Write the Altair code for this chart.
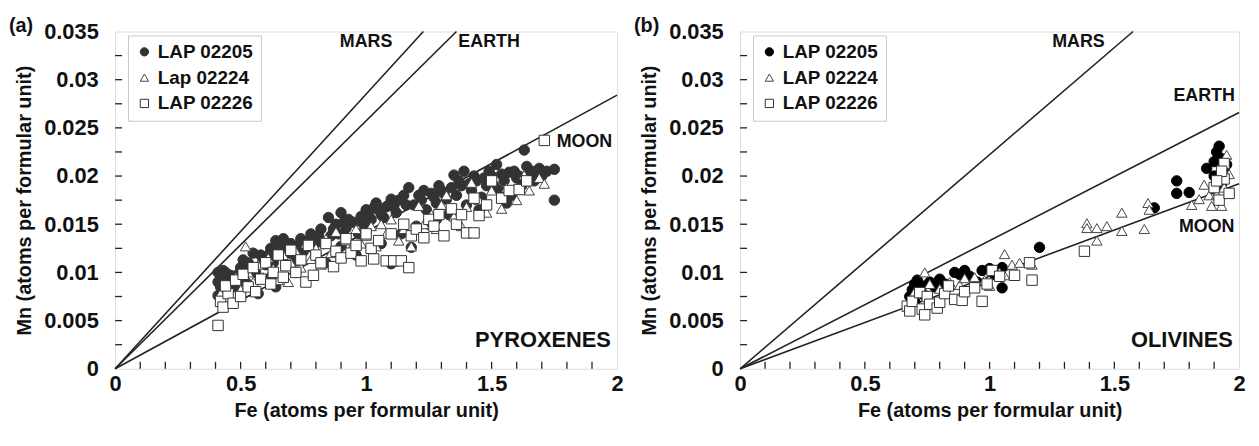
import altair as alt
import pandas as pd

FONT = "Liberation Sans"

# ---------------- (a) PYROXENES ----------------
pyx_names = ["LAP 02205", "Lap 02224", "LAP 02226"]

pyx_a_fe = [0.41, 0.42, 0.41, 0.42, 0.43, 0.41, 0.44, 0.45, 0.43, 0.46, 0.50, 0.53, 0.56, 0.57, 0.58,
            0.60, 0.62, 0.64, 0.66, 0.68, 0.70, 0.72, 0.74, 0.76, 0.78, 0.80, 0.82, 0.85, 0.86, 0.88,
            0.90, 0.92, 0.95, 0.97, 1.00, 1.02, 1.04, 1.06, 1.08, 1.10, 1.10, 1.12, 1.15, 1.17, 1.18,
            1.19, 1.22, 1.24, 1.26, 1.28, 1.30, 1.32, 1.35, 1.36, 1.38, 1.39, 1.40, 1.42, 1.44, 1.46,
            1.48, 1.50, 1.52, 1.53, 1.55, 1.57, 1.58, 1.60, 1.62, 1.63, 1.65, 1.67, 1.69, 1.70, 1.75,
            1.75, 0.48, 0.52, 0.62, 0.72, 0.84, 0.96, 1.06, 1.14, 1.25, 0.64, 0.80, 0.90, 1.20, 1.33,
            1.45, 1.56, 1.28,
            0.44, 0.47, 0.49, 0.51, 0.54, 0.55, 0.59, 0.61, 0.63, 0.67, 0.69, 0.71, 0.73, 0.75, 0.77,
            0.79, 0.81, 0.83, 0.87, 0.89, 0.91, 0.93, 0.98, 0.99, 1.01, 1.03, 1.05, 1.07, 1.09, 1.11,
            1.13, 1.16, 1.21, 1.23, 1.27, 1.29, 1.31, 1.34, 1.37, 1.41, 1.43, 1.47, 1.49, 1.51, 1.54,
            1.59, 1.61, 1.64, 1.66, 1.68, 1.72]
pyx_a_mn = [0.0100, 0.0095, 0.0090, 0.0085, 0.0080, 0.0076, 0.0092, 0.0087, 0.0102, 0.0097, 0.0105, 0.0110, 0.0100, 0.0078, 0.0118,
            0.0108, 0.0125, 0.0133, 0.0127, 0.0120, 0.0130, 0.0112, 0.0135, 0.0127, 0.0140, 0.0132, 0.0145, 0.0157, 0.0138, 0.0150,
            0.0162, 0.0146, 0.0152, 0.0140, 0.0165, 0.0155, 0.0172, 0.0160, 0.0168, 0.0176, 0.0109, 0.0162, 0.0180, 0.0188, 0.0126,
            0.0170, 0.0175, 0.0165, 0.0182, 0.0172, 0.0185, 0.0176, 0.0201, 0.0180, 0.0190, 0.0205, 0.0170, 0.0185, 0.0195, 0.0178,
            0.0190, 0.0200, 0.0212, 0.0185, 0.0195, 0.0204, 0.0180, 0.0198, 0.0190, 0.0227, 0.0203, 0.0195, 0.0208, 0.0200, 0.0207,
            0.0175, 0.0085, 0.0090, 0.0095, 0.0100, 0.0110, 0.0118, 0.0130, 0.0140, 0.0150, 0.0085, 0.0118, 0.0127, 0.0148, 0.0160,
            0.0165, 0.0172, 0.0155,
            0.0100, 0.0093, 0.0098, 0.0113, 0.0105, 0.0120, 0.0112, 0.0118, 0.0110, 0.0135, 0.0125, 0.0118, 0.0128, 0.0122, 0.0133,
            0.0125, 0.0138, 0.0130, 0.0145, 0.0140, 0.0152, 0.0155, 0.0158, 0.0150, 0.0160, 0.0167, 0.0165, 0.0157, 0.0170, 0.0168,
            0.0175, 0.0170, 0.0180, 0.0185, 0.0178, 0.0190, 0.0182, 0.0188, 0.0195, 0.0192, 0.0200, 0.0198, 0.0205, 0.0190, 0.0202,
            0.0205, 0.0200, 0.0210, 0.0205, 0.0198, 0.0205]

pyx_b_fe = [0.42, 0.44, 0.46, 0.48, 0.50, 0.52, 0.53, 0.55, 0.57, 0.59, 0.61, 0.63, 0.65, 0.67, 0.69,
            0.70, 0.72, 0.74, 0.76, 0.78, 0.80, 0.82, 0.84, 0.86, 0.88, 0.90, 0.92, 0.94, 0.96, 0.98,
            1.00, 1.02, 1.04, 1.06, 1.08, 1.10, 1.13, 1.15, 1.18, 1.21, 1.23, 1.26, 1.28, 1.30, 1.32,
            1.35, 1.38, 1.40, 1.42, 1.45, 1.48, 1.50, 1.54, 1.56, 1.60, 1.63, 1.65, 1.69, 1.71]
pyx_b_mn = [0.0078, 0.0088, 0.0070, 0.0095, 0.0082, 0.0127, 0.0100, 0.0090, 0.0108, 0.0095, 0.0115, 0.0104, 0.0092, 0.0118, 0.0090,
            0.0110, 0.0122, 0.0105, 0.0130, 0.0114, 0.0125, 0.0108, 0.0135, 0.0120, 0.0142, 0.0118, 0.0133, 0.0125, 0.0145, 0.0130,
            0.0138, 0.0148, 0.0127, 0.0150, 0.0140, 0.0155, 0.0133, 0.0145, 0.0127, 0.0169, 0.0150, 0.0160, 0.0145, 0.0170, 0.0180,
            0.0158, 0.0148, 0.0168, 0.0193, 0.0175, 0.0162, 0.0185, 0.0166, 0.0188, 0.0175, 0.0201, 0.0185, 0.0198, 0.0192]

pyx_c_fe = [0.41, 0.42, 0.43, 0.45, 0.47, 0.44, 0.48, 0.50, 0.51, 0.53, 0.55, 0.56, 0.58, 0.60, 0.62,
            0.63, 0.65, 0.67, 0.68, 0.70, 0.72, 0.74, 0.76, 0.77, 0.79, 0.80, 0.82, 0.84, 0.87, 0.88,
            0.90, 0.92, 0.94, 0.96, 0.98, 1.00, 1.02, 1.03, 1.05, 1.08, 1.10, 1.11, 1.14, 1.17, 1.15,
            1.18, 1.20, 1.23, 1.25, 1.27, 1.29, 1.31, 1.34, 1.36, 1.38, 1.40, 1.43, 1.43, 1.45, 1.48,
            1.50, 1.54, 1.57, 1.61, 1.64, 1.71]
pyx_c_mn = [0.0045, 0.0070, 0.0064, 0.0078, 0.0068, 0.0086, 0.0092, 0.0075, 0.0098, 0.0085, 0.0105, 0.0080, 0.0093, 0.0110, 0.0088,
            0.0100, 0.0118, 0.0095, 0.0107, 0.0123, 0.0100, 0.0113, 0.0090, 0.0128, 0.0097, 0.0118, 0.0110, 0.0130, 0.0106, 0.0122,
            0.0115, 0.0135, 0.0120, 0.0128, 0.0112, 0.0140, 0.0125, 0.0114, 0.0133, 0.0112, 0.0140, 0.0112, 0.0112, 0.0105, 0.0150,
            0.0138, 0.0145, 0.0136, 0.0155, 0.0148, 0.0160, 0.0138, 0.0166, 0.0150, 0.0160, 0.0141, 0.0141, 0.0177, 0.0159, 0.0170,
            0.0195, 0.0177, 0.0185, 0.0186, 0.0195, 0.0237]

pyx_line_names = ["MARS", "EARTH", "MOON"]
pyx_line_end_fe = [1.228, 1.36, 2.0]
pyx_line_end_mn = [0.035, 0.035, 0.0284]

pyx_label_text = ["MARS", "EARTH", "MOON"]
pyx_label_fe = [1.0, 1.49, 1.87]
pyx_label_mn = [0.0339, 0.0339, 0.0235]

# ---------------- (b) OLIVINES ----------------
oli_names = ["LAP 02205", "LAP 02224", "LAP 02226"]

oli_a_fe = [0.68, 0.69, 0.70, 0.71, 0.70, 0.72, 0.73, 0.74, 0.76, 0.78, 0.80, 0.82, 0.86, 0.88, 0.90,
            0.92, 0.95, 0.97, 1.00, 1.02, 1.05, 1.05, 1.20, 1.66, 1.75, 1.75, 1.80, 1.87, 1.90, 1.91,
            1.92, 1.93, 1.94, 1.92, 1.95, 1.93, 1.90]
oli_a_mn = [0.0075, 0.0082, 0.0088, 0.0092, 0.0070, 0.0080, 0.0086, 0.0076, 0.0090, 0.0085, 0.0093, 0.0088, 0.0100, 0.0098, 0.0102,
            0.0096, 0.0090, 0.0102, 0.0104, 0.0098, 0.0105, 0.0084, 0.0126, 0.0167, 0.0195, 0.0182, 0.0183, 0.0208, 0.0215, 0.0225,
            0.0231, 0.0218, 0.0205, 0.0198, 0.0212, 0.0192, 0.0200]

oli_b_fe = [0.70, 0.74, 0.76, 0.80, 0.84, 0.88, 0.90, 0.94, 0.98, 1.00, 1.04, 1.06, 1.06, 1.09, 1.12,
            1.17, 1.39, 1.39, 1.43, 1.43, 1.47, 1.53, 1.53, 1.62, 1.635, 1.64, 1.81, 1.84, 1.86, 1.88,
            1.89, 1.91, 1.93, 1.95, 1.96, 1.94]
oli_b_mn = [0.0080, 0.0100, 0.0088, 0.0083, 0.0090, 0.0087, 0.0094, 0.0095, 0.0092, 0.0086, 0.0100, 0.0119, 0.0097, 0.0108, 0.0110,
            0.0108, 0.0151, 0.0146, 0.0146, 0.0133, 0.0148, 0.0162, 0.0143, 0.0145, 0.0172, 0.0165, 0.0170, 0.0176, 0.0191, 0.0180,
            0.0169, 0.0181, 0.0169, 0.0222, 0.0202, 0.0188]

oli_c_fe = [0.67, 0.68, 0.69, 0.72, 0.73, 0.74, 0.75, 0.76, 0.79, 0.80, 0.82, 0.835, 0.86, 0.89, 0.90,
            0.94, 0.97, 0.99, 1.01, 1.04, 1.10, 1.16, 1.17, 1.38, 1.90, 1.92, 1.94, 1.94, 1.96, 1.93,
            1.91]
oli_c_mn = [0.0065, 0.0060, 0.0070, 0.0079, 0.0062, 0.0056, 0.0075, 0.0067, 0.0063, 0.0069, 0.0078, 0.0086, 0.0072, 0.0071, 0.0080,
            0.0084, 0.0070, 0.0088, 0.0102, 0.0096, 0.0097, 0.0110, 0.0092, 0.0122, 0.0188, 0.0175, 0.0213, 0.0197, 0.0182, 0.0205,
            0.0195]

oli_line_names = ["MARS", "EARTH", "MOON"]
oli_line_end_fe = [1.575, 2.0, 2.0]
oli_line_end_mn = [0.035, 0.0266, 0.0192]

oli_label_text = ["MARS", "EARTH", "MOON"]
oli_label_fe = [1.356, 1.86, 1.87]
oli_label_mn = [0.0339, 0.0283, 0.0147]

# ---------------- axes ----------------
x_labels = [0, 0.5, 1, 1.5, 2]
y_labels = [0, 0.005, 0.01, 0.015, 0.02, 0.025, 0.03, 0.035]
x_minor = [0.1, 0.2, 0.3, 0.4, 0.5, 0.6, 0.7, 0.8, 0.9, 1.0, 1.1, 1.2, 1.3, 1.4, 1.5, 1.6, 1.7, 1.8, 1.9]
y_minor = [0.0025, 0.005, 0.0075, 0.01, 0.0125, 0.015, 0.0175, 0.02, 0.0225, 0.025, 0.0275, 0.03, 0.0325]

W_A, W_B, H = 506, 503, 340


def panel(names, fes, mns, dot_color, line_names, line_fe, line_mn,
          lab_text, lab_fe, lab_mn, rock, tag, width):
    rows = []
    for name, fe, mn in zip(names, fes, mns):
        for f, m in zip(fe, mn):
            rows.append({"sample": name, "Fe": f, "Mn": m})
    pts = pd.DataFrame(rows)

    lrows = []
    for n, f, m in zip(line_names, line_fe, line_mn):
        lrows.append({"line": n, "Fe": 0.0, "Mn": 0.0})
        lrows.append({"line": n, "Fe": f, "Mn": m})
    lines_df = pd.DataFrame(lrows)

    xs = alt.Scale(domain=[0, 2], nice=False, zero=True)
    ys = alt.Scale(domain=[0, 0.035], nice=False, zero=True)
    xax = alt.Axis(values=x_labels, format="~g", title="Fe (atoms per formular unit)",
                   ticks=False, domain=False, grid=False, labelPadding=5, titlePadding=6,
                   labelFontSize=22, titleFontSize=20, labelFont=FONT, titleFont=FONT,
                   labelFontWeight="bold", titleFontWeight="bold", labelColor="#111",
                   titleColor="#111", labelFlush=False)
    yax = alt.Axis(values=y_labels, format="~g", title="Mn (atoms per formular unit)",
                   ticks=False, domain=False, grid=False, labelPadding=17, titlePadding=9,
                   labelFontSize=22, titleFontSize=20, labelFont=FONT, titleFont=FONT,
                   labelFontWeight="bold", titleFontWeight="bold", labelColor="#111",
                   titleColor="#111", labelFlush=False)

    lines = alt.Chart(lines_df).mark_line(color="#222", strokeWidth=1.6).encode(
        x=alt.X("Fe:Q", scale=xs, axis=xax),
        y=alt.Y("Mn:Q", scale=ys, axis=yax),
        detail="line:N",
    )

    xt = alt.Chart(pd.DataFrame({"Fe": x_minor})).mark_rule(color="#222", strokeWidth=1.3).encode(
        x="Fe:Q", y=alt.value(H), y2=alt.value(H - 7))
    yt = alt.Chart(pd.DataFrame({"Mn": y_minor})).mark_rule(color="#222", strokeWidth=1.3).encode(
        y="Mn:Q", x=alt.value(0), x2=alt.value(7))

    legend = alt.Legend(title=None, orient="none", legendX=13, legendY=4,
                        labelFont=FONT, labelFontSize=19, labelFontWeight="bold",
                        labelColor="#111", symbolSize=70, symbolStrokeWidth=1,
                        strokeColor="#c8c8c8", fillColor="white", padding=7,
                        rowPadding=6, labelOffset=4)
    points = alt.Chart(pts).mark_point(filled=True, opacity=1, strokeWidth=1, size=110).encode(
        x="Fe:Q", y="Mn:Q",
        shape=alt.Shape("sample:N", scale=alt.Scale(domain=names, range=["circle", "triangle-up", "square"]),
                        legend=legend),
        fill=alt.Fill("sample:N", scale=alt.Scale(domain=names, range=[dot_color, "white", "white"]),
                      legend=legend),
        stroke=alt.Stroke("sample:N", scale=alt.Scale(domain=names, range=[dot_color, "#444", "#333"]),
                          legend=legend),
    )

    labels = alt.Chart(pd.DataFrame({"t": lab_text, "Fe": lab_fe, "Mn": lab_mn})).mark_text(
        font=FONT, fontSize=18, fontWeight="bold", color="#111", align="center", baseline="middle"
    ).encode(x="Fe:Q", y="Mn:Q", text="t:N")

    rock_df = pd.DataFrame({"t": [rock], "Fe": [1.975], "Mn": [0.003]})
    rock_lab = alt.Chart(rock_df).mark_text(
        font=FONT, fontSize=22, fontWeight="bold", color="#111", align="right", baseline="middle"
    ).encode(x="Fe:Q", y="Mn:Q", text="t:N")

    tag_lab = alt.Chart(pd.DataFrame({"t": [tag]})).mark_text(
        font=FONT, fontSize=20, fontWeight="bold", color="#111", align="left", baseline="top"
    ).encode(x=alt.value(-107), y=alt.value(-16), text="t:N")

    return alt.layer(lines, xt, yt, points, labels, rock_lab, tag_lab).properties(width=width, height=H)


left = panel(pyx_names, [pyx_a_fe, pyx_b_fe, pyx_c_fe], [pyx_a_mn, pyx_b_mn, pyx_c_mn], "#333",
             pyx_line_names, pyx_line_end_fe, pyx_line_end_mn,
             pyx_label_text, pyx_label_fe, pyx_label_mn, "PYROXENES", "(a)", W_A)
right = panel(oli_names, [oli_a_fe, oli_b_fe, oli_c_fe], [oli_a_mn, oli_b_mn, oli_c_mn], "#000",
              oli_line_names, oli_line_end_fe, oli_line_end_mn,
              oli_label_text, oli_label_fe, oli_label_mn, "OLIVINES", "(b)", W_B)

chart = alt.hconcat(left, right, spacing=9).resolve_scale(
    shape="independent", fill="independent", stroke="independent"
).resolve_legend(shape="independent", fill="independent", stroke="independent").properties(
    padding={"left": 0, "top": 5, "right": 5, "bottom": 5}
).configure_view(stroke="#222", strokeWidth=1.6).configure(background="white")

chart.save("out.html", embed_options={"renderer": "svg", "actions": False})
